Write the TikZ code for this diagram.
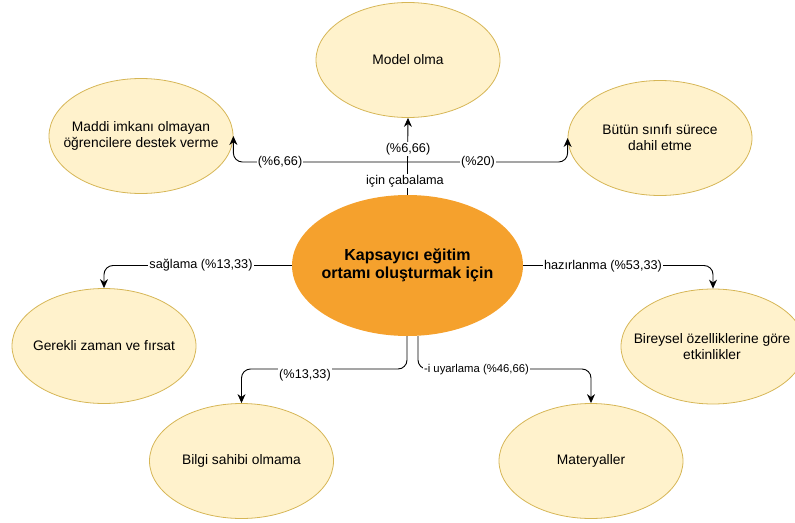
\documentclass[tikz,border=0pt]{standalone}
\usepackage{fontspec}
\setmainfont{Liberation Sans}
\usetikzlibrary{arrows.meta,shapes.geometric}
\definecolor{yfill}{HTML}{FFF2CC}
\definecolor{ydraw}{HTML}{D6B656}
\definecolor{ofill}{HTML}{F5A12D}
\begin{document}
\begin{tikzpicture}[x=1pt,y=-1pt,
  leaf/.style={ellipse, draw=ydraw, fill=yfill, line width=0.8pt,
    minimum width=184pt, minimum height=115pt, inner sep=0pt},
  leaftext/.style={align=center, font=\fontsize{13.8}{16}\selectfont, inner sep=0pt},
  hub/.style={ellipse, fill=ofill, minimum width=231pt, minimum height=141pt, inner sep=0pt},
  hubtext/.style={align=center, font=\bfseries\fontsize{16}{18.5}\selectfont, inner sep=0pt},
  conn/.style={line width=0.9pt, rounded corners=9pt},
  arr/.style={conn, -{Stealth[length=9pt,width=8pt]}},
  lbl/.style={fill=white, inner sep=1pt, font=\fontsize{12.7}{14}\selectfont}]
\useasboundingbox (0,0) rectangle (795,522);
\begin{scope}
\clip (0,0) rectangle (795,522);
% nodes
\node[hub] (c) at (407.5,265.5) {};
\node[hubtext] (ct) at (c) {Kapsayıcı eğitim\\ortamı oluşturmak için};
\node[leaf] (model) at (408,60) {};
\node[leaftext] (modelt) at (model) {Model olma};
\node[leaf] (maddi) at (141,136) {};
\node[leaftext] (madditt) at (maddi) {Maddi imkanı olmayan\\öğrencilere destek verme};
\node[leaf] (butun) at (660,138) {};
\node[leaftext] (butunt) at (butun) {Bütün sınıfı sürece\\dahil etme};
\node[leaf] (gerekli) at (104,346) {};
\node[leaftext] (gereklit) at (gerekli) {Gerekli zaman ve fırsat};
\node[leaf] (bireysel) at (713,346.5) {};
\node[leaftext] (bireyselt) at (712,346.5) {Bireysel özelliklerine göre\\etkinlikler};
\node[leaf] (bilgi) at (241.5,461) {};
\node[leaftext] (bilgit) at (bilgi) {Bilgi sahibi olmama};
\node[leaf] (mat) at (591,461) {};
\node[leaftext] (matt) at (mat) {Materyaller};
% top connectors
\coordinate (j) at (407.5,162);
\draw[conn] (c.north) -- (j);
\draw[arr] (j) -- (model.south);
\draw[arr] (j) -| (maddi.east);
\draw[arr] (j) -| (butun.west);
\node[lbl] (l1) at (405,181) {için çabalama};
\node[lbl] (l2) at (408,149) {(\%6,66)};
\node[lbl] (l3) at (280,162) {(\%6,66)};
\node[lbl] (l4) at (478,162) {(\%20)};
% side connectors
\draw[arr] (c.west) -| (gerekli.north);
\draw[arr] (c.east) -| (bireysel.north);
\node[lbl] (l5) at (201,265.5) {sağlama (\%13,33)};
\node[lbl] (l6) at (603,266) {hazırlanma (\%53,33)};
% bottom connectors
\coordinate (bl) at (407,369);
\coordinate (br) at (418,369);
\draw[arr] (c.south -| bl) -- (bl) -| (bilgi.north);
\draw[arr] (c.south -| br) -- (br) -| (mat.north);
\node[lbl] (l7) at (305,375) {(\%13,33)};
\node[lbl, font=\fontsize{11.3}{13}\selectfont] (l8) at (476.5,370) {-i uyarlama (\%46,66)};
\end{scope}
\end{tikzpicture}
\end{document}
